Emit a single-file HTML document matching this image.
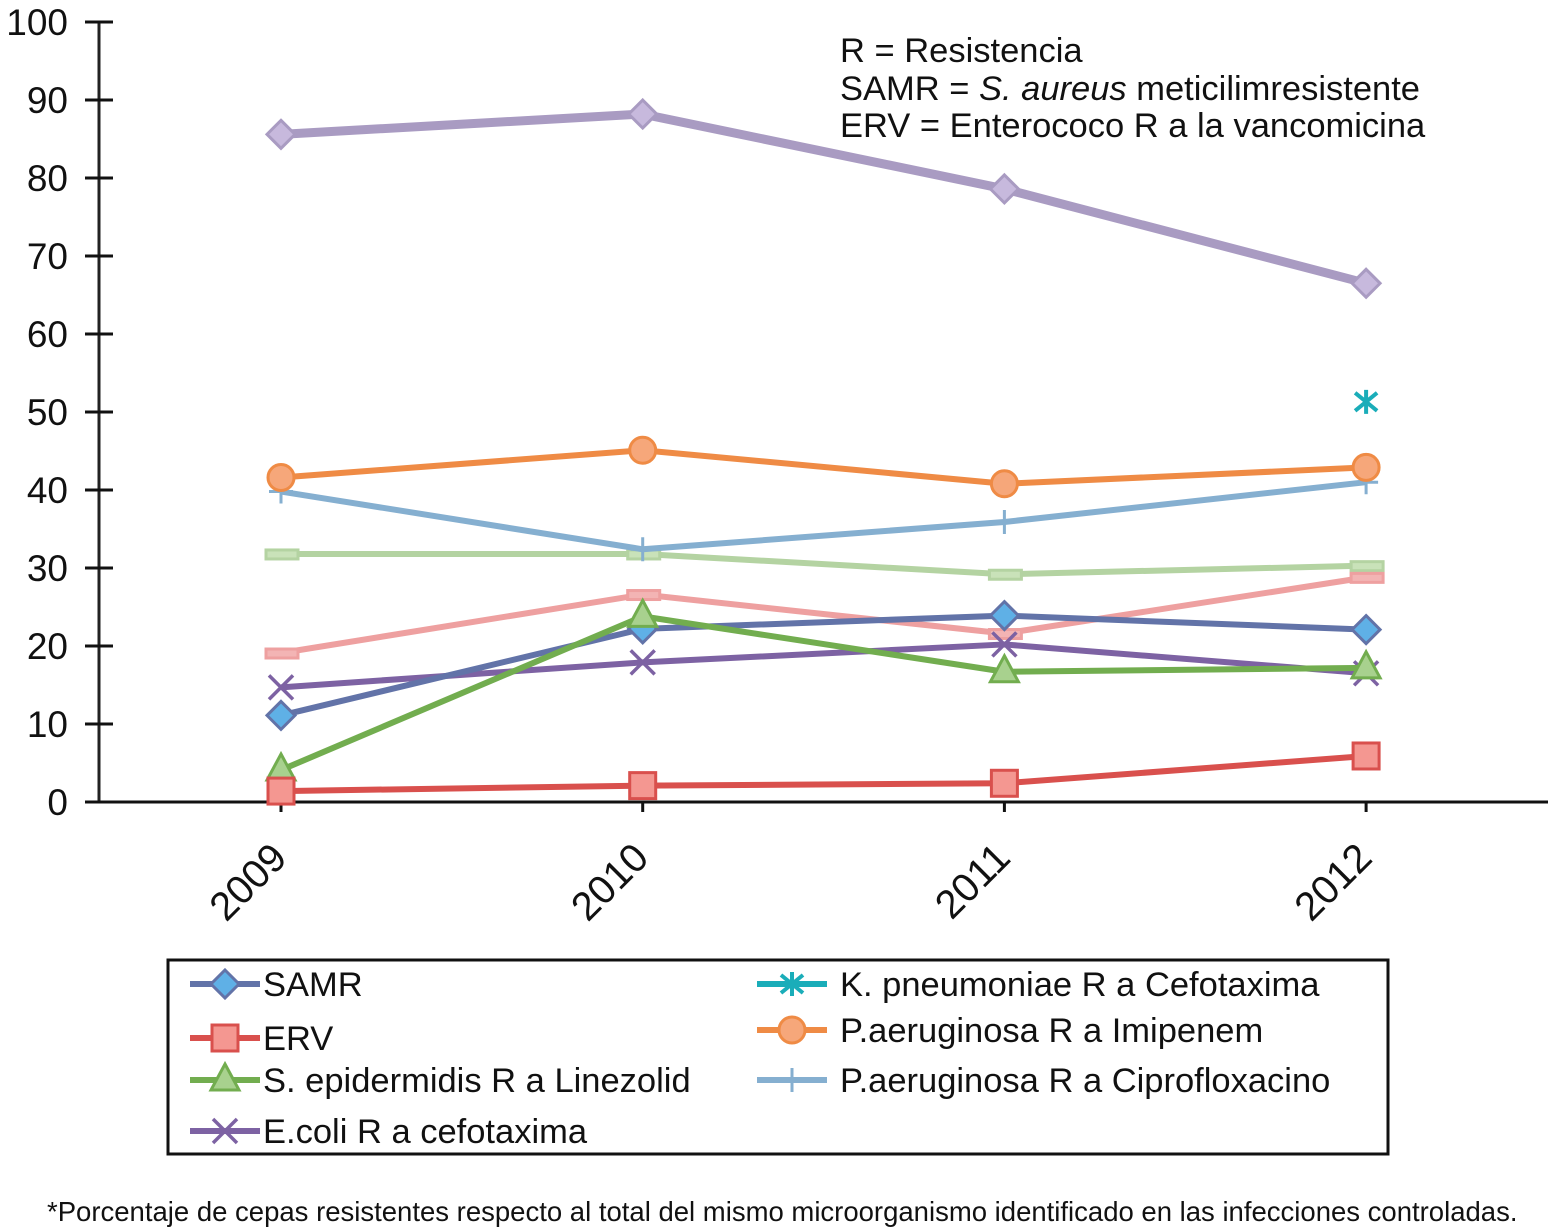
<!DOCTYPE html>
<html><head><meta charset="utf-8"><style>
html,body{margin:0;padding:0;background:#fff;}
svg{display:block;font-family:"Liberation Sans",Arial,sans-serif;}
</style></head><body>
<svg id="chart" width="1548" height="1227" viewBox="0 0 1548 1227" xmlns="http://www.w3.org/2000/svg">
<g id="axes"></g>
<g id="series"></g>
<g font-size="34.5" fill="#111">
<text x="840" y="62">R = Resistencia</text>
<text x="840" y="100">SAMR = <tspan font-style="italic">S. aureus</tspan> meticilimresistente</text>
<text x="840" y="137">ERV = Enterococo R a la vancomicina</text>
</g>
<rect x="168" y="960" width="1220" height="194" fill="none" stroke="#111" stroke-width="3"/>
<g id="legend"></g>
<text x="47" y="1221" font-size="27.5" fill="#111">*Porcentaje de cepas resistentes respecto al total del mismo microorganismo identificado en las infecciones controladas.</text>
</svg>
<script>
const years = ["2009","2010","2011","2012"];
const yTicks = [0,10,20,30,40,50,60,70,80,90,100];
const seriesNames = ["Lavanda","Verde claro","Rosa","SAMR","ERV","S. epidermidis R a Linezolid","E.coli R a cefotaxima","K. pneumoniae R a Cefotaxima","P.aeruginosa R a Imipenem","P.aeruginosa R a Ciprofloxacino"];
const lavender = [85.6,88.2,78.6,66.5];
const lightGreen = [31.8,31.8,29.2,30.3];
const pink = [19.1,26.6,21.6,28.8];
const samr = [11.1,22.2,23.9,22.1];
const erv = [1.4,2.1,2.4,5.9];
const sepi = [4.1,23.8,16.7,17.2];
const ecoli = [14.7,17.9,20.2,16.5];
const kpn = [null,null,null,51.3];
const imip = [41.6,45.1,40.8,42.9];
const cipro = [39.8,32.4,35.9,41.0];

const NS="http://www.w3.org/2000/svg";
const X0=281, DX=361.7, Y0=802, PY=7.8;
const xs=i=>X0+i*DX, ys=v=>Y0-v*PY;
function mk(tag,attrs,parent){const e=document.createElementNS(NS,tag);for(const k in attrs)e.setAttribute(k,attrs[k]);parent.appendChild(e);return e;}
const axes=document.getElementById('axes');
let l=mk('line',{x1:99,y1:ys(100),x2:99,y2:Y0,stroke:'#222','stroke-width':3},axes);


l=mk('line',{x1:86,y1:Y0,x2:1548,y2:Y0,stroke:'#111','stroke-width':3},axes);


yTicks.forEach(t=>{
  let tk=mk('line',{x1:85,x2:113,y1:ys(t),y2:ys(t),stroke:'#111','stroke-width':3},axes);
  
  
  let tx=mk('text',{x:68,y:ys(t)+13,'text-anchor':'end','font-size':37,fill:'#111'},axes);
  tx.textContent=t;
  
  
});
years.forEach((y,i)=>{
  let tk=mk('line',{x1:xs(i),x2:xs(i),y1:Y0,y2:Y0+10,stroke:'#111','stroke-width':3},axes);
  
  
  let tx=mk('text',{x:0,y:0,'text-anchor':'end','font-size':40,fill:'#111',transform:`translate(${xs(i)+8},${Y0+58}) rotate(-45)`},axes);
  tx.textContent=y;
  
  
});

function marker(type,x,y,c,g){
  let m;
  if(type==='diamond'){m=mk('polygon',{points:`${x},${y-14} ${x+14},${y} ${x},${y+14} ${x-14},${y}`,fill:c.fill,stroke:c.line,'stroke-width':3},g);}
  else if(type==='square'){m=mk('rect',{x:x-13,y:y-13,width:26,height:26,fill:c.fill,stroke:c.line,'stroke-width':3},g);}
  else if(type==='triangle'){m=mk('polygon',{points:`${x},${y-16} ${x+14},${y+10} ${x-14},${y+10}`,fill:c.fill,stroke:c.line,'stroke-width':3},g);}
  else if(type==='x'){m=mk('path',{d:`M${x-12},${y-12}L${x+12},${y+12}M${x+12},${y-12}L${x-12},${y+12}`,stroke:c.line,'stroke-width':3.5},g);}
  else if(type==='star'){m=mk('path',{d:`M${x-11},${y-9}L${x+11},${y+9}M${x+11},${y-9}L${x-11},${y+9}M${x},${y-12}L${x},${y+12}`,stroke:c.line,'stroke-width':4},g);}
  else if(type==='circle'){m=mk('circle',{cx:x,cy:y,r:13,fill:c.fill,stroke:c.line,'stroke-width':3},g);}
  else if(type==='plus'){m=mk('path',{d:`M${x-12},${y}L${x+12},${y}M${x},${y-12}L${x},${y+12}`,stroke:c.line,'stroke-width':3},g);}
  else if(type==='dash'){m=mk('rect',{x:x-15,y:y-4,width:32,height:9,fill:c.fill,stroke:c.line,'stroke-width':3},g);}
  
  
}
const defs=[
 {data:lavender,line:'#a99bc2',fill:'#c7b9dd',m:'diamond',w:9},
 {data:lightGreen,line:'#b4d3a2',fill:'#c9e2b9',m:'dash',w:6},
 {data:pink,line:'#eea0a0',fill:'#f3b4b4',m:'dash',w:6},
 {data:cipro,line:'#85afd0',fill:'#85afd0',m:'plus',w:6},
 {data:imip,line:'#ef8b45',fill:'#f6a77a',m:'circle',w:6},
 {data:ecoli,line:'#7d62a3',fill:'#7d62a3',m:'x',w:6},
 {data:samr,line:'#6273a8',fill:'#5fb0e6',m:'diamond',w:6},
 {data:sepi,line:'#72ad4f',fill:'#a8d18e',m:'triangle',w:6},
 {data:erv,line:'#d9504d',fill:'#f49791',m:'square',w:6},
 {data:kpn,line:'#1aadb9',fill:'#1aadb9',m:'star',w:6}
];
const sg=document.getElementById('series');
defs.forEach(d=>{
  const g=mk('g',{},sg);
  
  
  const pts=d.data.map((v,i)=>v==null?null:[xs(i),ys(v)]).filter(p=>p);
  if(pts.length>1){let pl=mk('polyline',{points:pts.map(p=>p.join(',')).join(' '),fill:'none',stroke:d.line,'stroke-width':d.w,'stroke-linejoin':'round'},g);
    
    }
  pts.forEach(p=>marker(d.m,p[0],p[1],d,g));
});

const lg=document.getElementById('legend');
const entries=[
 {t:'SAMR',d:defs[6],x:190,y:984},
 {t:'ERV',d:defs[8],x:190,y:1038},
 {t:'S. epidermidis R a Linezolid',d:defs[7],x:190,y:1080},
 {t:'E.coli R a cefotaxima',d:defs[5],x:190,y:1131},
 {t:'K. pneumoniae R a Cefotaxima',d:defs[9],x:757,y:984},
 {t:'P.aeruginosa R a Imipenem',d:defs[4],x:757,y:1030},
 {t:'P.aeruginosa R a Ciprofloxacino',d:defs[3],x:757,y:1080}
];
entries.forEach(e=>{
  const g=mk('g',{},lg);
  
  
  mk('line',{x1:e.x,x2:e.x+70,y1:e.y,y2:e.y,stroke:e.d.line,'stroke-width':6},g);
  marker(e.d.m,e.x+35,e.y,e.d,g);
  const t=mk('text',{x:e.x+(e.x<500?73:83),y:e.y+12,'font-size':34.5,fill:'#111'},g);
  t.textContent=e.t;
  
  
});
</script>
</body></html>
